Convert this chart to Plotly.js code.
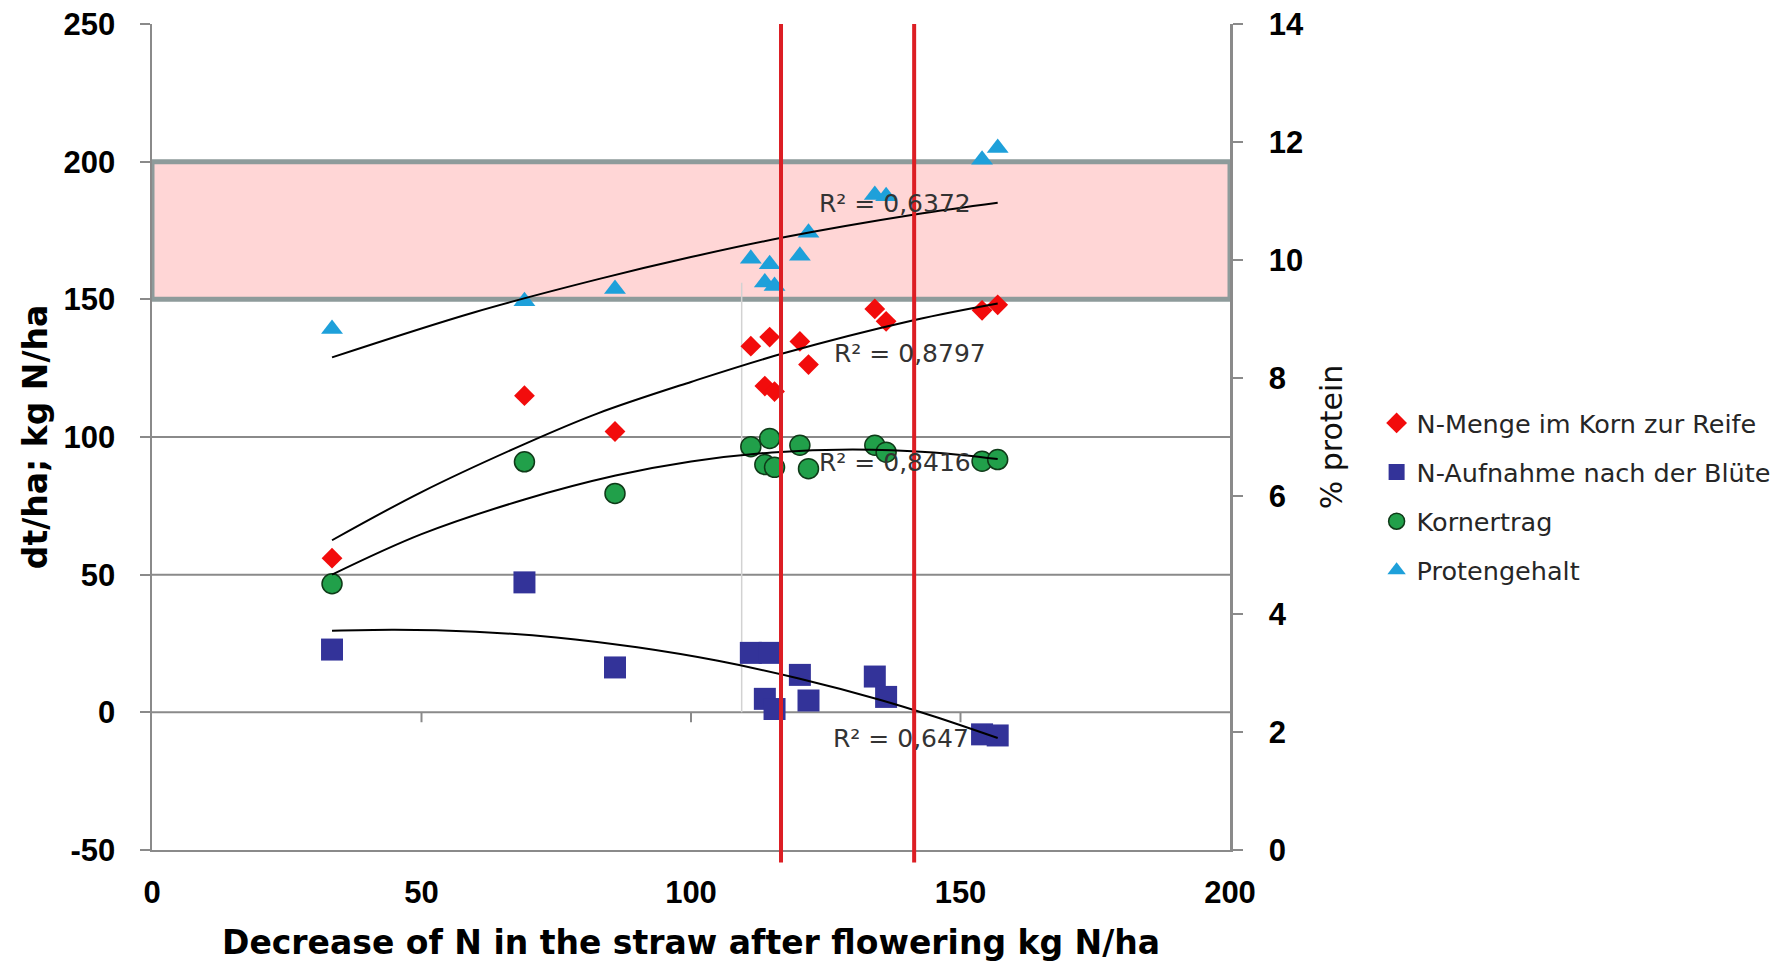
<!DOCTYPE html>
<html>
<head>
<meta charset="utf-8">
<script src="https://cdn.plot.ly/plotly-3.0.1.min.js"></script>
<style>
  html, body { margin: 0; padding: 0; background: #ffffff; }
  #chart { width: 1788px; height: 964px; }
</style>
</head>
<body>
<div id="chart"></div>
<script>
// ---------- data ----------
const xDecrease   = [33.4, 69.1, 85.9, 111.1, 114.6, 113.7, 115.5, 120.2, 121.8, 134.1, 136.2, 154.0, 156.9];
const nMengeKorn  = [56, 115, 102, 133, 136.3, 118.5, 116.5, 134.7, 126.3, 146.5, 142, 146, 148];
const nAufnahme   = [22.8, 47.2, 16.3, 21.6, 21.6, 4.9, 1.2, 13.6, 4.3, 13.0, 5.6, -8.0, -8.4];
const kornertrag  = [46.7, 91, 79.5, 96.5, 99.5, 90, 89, 97, 88.5, 97, 94.5, 91.2, 91.8];
const protein     = [8.83, 9.3, 9.51, 10.02, 9.93, 9.62, 9.56, 10.07, 10.46, 11.10, 11.08, 11.70, 11.90];

// trend lines
const trendMengeX = [33.4, 50, 69.3, 82.6, 100, 117, 141.5, 156.9];
const trendMengeY = [62.5, 80, 97.6, 108.5, 120, 130.3, 142.5, 148.5];
const trendAufnX  = [33.4, 45, 60, 75, 90, 105, 120, 135, 145, 156.9];
const trendAufnY  = [29.6, 30, 29.3, 27.2, 23.6, 18.7, 12.3, 4.6, -1.4, -9.3];
const trendKornX  = [33.4, 50, 69.1, 86, 100, 115, 130, 145, 156.9];
const trendKornY  = [50, 64.7, 77.3, 86, 91.1, 94.4, 95.5, 94.4, 92];
const trendProtX  = [33.4, 60, 83, 100, 117, 141.5, 156.9];
const trendProtY  = [8.35, 9.12, 9.68, 10.05, 10.38, 10.77, 10.97];

const r2Labels = ["R² = 0,6372", "R² = 0,8797", "R² = 0,8416", "R² = 0,647"];
const r2X = [137.9, 140.6, 137.9, 139.0];
const r2Y = [184.1, 129.5, 90.0, -10.4];

const seriesNames = ["N-Menge im Korn zur Reife", "N-Aufnahme nach der Blüte", "Kornertrag", "Protengehalt"];

const leftTicks     = [-50, 0, 50, 100, 150, 200, 250];
const leftTickText  = ["-50", "0", "50", "100", "150", "200", "250"];
const rightTicks    = [0, 2, 4, 6, 8, 10, 12, 14];
const xTicks        = [0, 50, 100, 150, 200];
const gridLevels    = [0, 50, 100, 150, 200];
const bandRange     = [150, 200];
const redLinesX     = [116.7, 141.4];
const thinLineX = 109.4, thinLineTop = 156;
const zeroTickX     = [50, 100, 150];

// ---------- styles ----------
const GRAY = '#8a8a8a';
const boldTick = {family: 'Liberation Sans, Arial, sans-serif', size: 31, color: '#000000', weight: 'bold'};
const titleBold = {family: 'DejaVu Sans, sans-serif', size: 33, color: '#000000', weight: 'bold'};
const regular = {family: 'DejaVu Sans, sans-serif', size: 25, color: '#333333'};

const trendStyle = {color: '#000000', width: 2, shape: 'spline', smoothing: 1};

const traces = [
  {x: xDecrease, y: nMengeKorn, name: seriesNames[0], type: 'scatter', mode: 'markers', legendgroup: 'a',
   marker: {symbol: 'diamond', size: 16, color: '#F20C0C'}},
  {x: xDecrease, y: nAufnahme, name: seriesNames[1], type: 'scatter', mode: 'markers', legendgroup: 'b',
   marker: {symbol: 'square', size: 22, color: '#333399'}},
  {x: xDecrease, y: kornertrag, name: seriesNames[2], type: 'scatter', mode: 'markers', legendgroup: 'c',
   marker: {symbol: 'circle', size: 20, color: '#21A04A', line: {color: '#0F3A18', width: 1.5}}},
  {x: trendMengeX, y: trendMengeY, type: 'scatter', mode: 'lines', showlegend: false, hoverinfo: 'skip', line: trendStyle},
  {x: trendAufnX, y: trendAufnY, type: 'scatter', mode: 'lines', showlegend: false, hoverinfo: 'skip', line: trendStyle},
  {x: trendKornX, y: trendKornY, type: 'scatter', mode: 'lines', showlegend: false, hoverinfo: 'skip', line: trendStyle},
  {x: xDecrease, y: protein, name: seriesNames[3], type: 'scatter', mode: 'markers', yaxis: 'y2', legendgroup: 'd',
   marker: {symbol: 'triangle-up', size: 19, color: '#1EA0DA'}},
  {x: trendProtX, y: trendProtY, type: 'scatter', mode: 'lines', yaxis: 'y2', showlegend: false, hoverinfo: 'skip', line: trendStyle}
];

const shapes = [];
gridLevels.forEach(v => shapes.push({type: 'line', xref: 'x', yref: 'y', x0: 0, x1: 200, y0: v, y1: v,
  line: {color: GRAY, width: 2}, layer: 'below'}));
shapes.push({type: 'rect', xref: 'x', yref: 'y', x0: 0, x1: 200, y0: bandRange[0], y1: bandRange[1],
  fillcolor: '#FFD6D6', line: {color: '#8E9B9B', width: 5}, layer: 'below'});
shapes.push({type: 'line', xref: 'x', yref: 'y', x0: thinLineX, x1: thinLineX, y0: 0, y1: thinLineTop,
  line: {color: '#d2d2d2', width: 1.5}, layer: 'below'});
zeroTickX.forEach(v => shapes.push({type: 'line', xref: 'x', yref: 'y', x0: v, x1: v, y0: 0, y1: -3.6,
  line: {color: GRAY, width: 2}, layer: 'below'}));
redLinesX.forEach(v => shapes.push({type: 'line', xref: 'x', yref: 'paper', x0: v, x1: v, y0: -0.015, y1: 1,
  line: {color: '#DC1E24', width: 4}, layer: 'above'}));

const annotations = r2Labels.map((t, i) => ({
  text: t, x: r2X[i], y: r2Y[i], xref: 'x', yref: 'y', showarrow: false,
  xanchor: 'center', yanchor: 'middle', yshift: 2, font: regular
}));

const layout = {
  width: 1788, height: 964,
  margin: {l: 152, r: 548, t: 24, b: 114, pad: 0},
  paper_bgcolor: '#ffffff', plot_bgcolor: '#ffffff',
  showlegend: true,
  xaxis: {
    range: [0, 200], tickvals: xTicks, showgrid: false, zeroline: false,
    showline: true, linecolor: GRAY, linewidth: 2, ticks: '', ticklabelstandoff: 14,
    tickfont: boldTick,
    title: {text: 'Decrease of N in the straw after flowering kg N/ha', font: titleBold, standoff: 22}
  },
  yaxis: {
    range: [-50, 250], tickvals: leftTicks, ticktext: leftTickText, showgrid: false, zeroline: false,
    showline: true, linecolor: GRAY, linewidth: 2.5, ticks: 'outside', ticklen: 10, tickwidth: 2, tickcolor: GRAY,
    ticklabelstandoff: 18, tickfont: boldTick,
    title: {text: 'dt/ha; kg N/ha', font: titleBold, standoff: 6}
  },
  yaxis2: {
    overlaying: 'y', side: 'right', range: [0, 14], tickvals: rightTicks, showgrid: false, zeroline: false,
    showline: true, linecolor: GRAY, linewidth: 2.5, ticks: 'outside', ticklen: 10, tickwidth: 2, tickcolor: GRAY,
    ticklabelstandoff: 20, tickfont: boldTick,
    title: {text: '% protein', font: {family: 'DejaVu Sans, sans-serif', size: 30, color: '#111111'}, standoff: 18}
  },
  legend: {
    x: 1.136, xanchor: 'left', y: 0.545, yanchor: 'top',
    font: {family: 'DejaVu Sans, sans-serif', size: 25.5, color: '#262626'},
    bgcolor: 'rgba(255,255,255,0)', traceorder: 'grouped', tracegroupgap: 13, itemsizing: 'trace'
  },
  shapes: shapes,
  annotations: annotations
};

Plotly.newPlot('chart', traces, layout, {displayModeBar: false, staticPlot: true});
</script>
</body>
</html>
